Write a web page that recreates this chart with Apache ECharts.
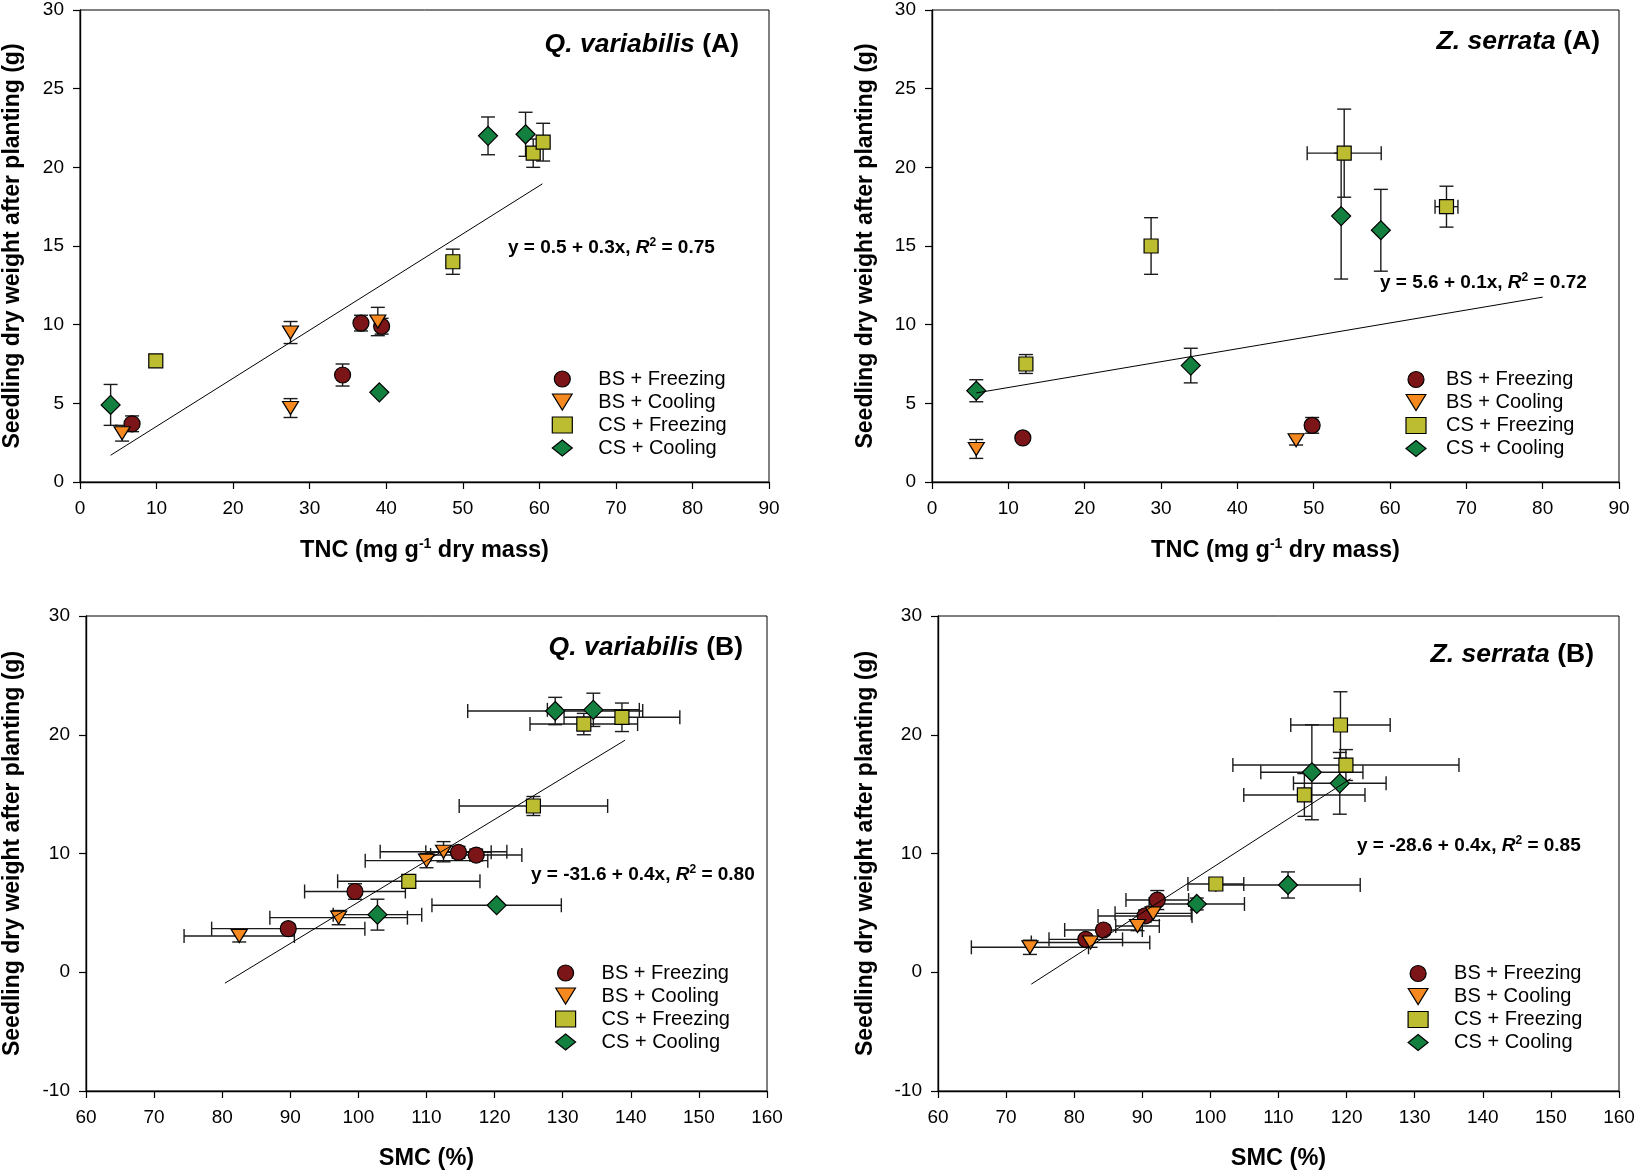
<!DOCTYPE html>
<html>
<head>
<meta charset="utf-8">
<script src="https://cdn.jsdelivr.net/npm/echarts@6/dist/echarts.min.js"></script>
<style>
html,body{margin:0;padding:0;background:#fff;}
#chart{width:1638px;height:1174px;}
</style>
</head>
<body>
<div id="chart"></div>
<script>
// ---------- DATA ----------
const groupNames = ['BS + Freezing', 'BS + Cooling', 'CS + Freezing', 'CS + Cooling'];

// axis ranges [min, max, interval]
const tncXRange = [0, 90, 10];
const tncYRange = [0, 30, 5];
const smcXRange = [60, 160, 10];
const smcYRange = [-10, 30, 10];

// each point: [x, y, xError, yError]
// Q. variabilis, TNC (A)
const qvTncBSF = [[6.8, 3.7, 0, 0.5], [34.3, 6.8, 0, 0.7], [36.7, 10.1, 0, 0.5], [39.4, 9.9, 0, 0.5]];
const qvTncBSC = [[5.5, 3.1, 0, 0.5], [27.5, 9.5, 0, 0.7], [27.5, 4.7, 0, 0.6], [38.9, 10.2, 0, 0.9]];
const qvTncCSF = [[9.9, 7.7, 0, 0.3], [48.7, 14.0, 0, 0.8], [59.2, 20.9, 0, 0.9], [60.5, 21.6, 0, 1.2]];
const qvTncCSC = [[4.0, 4.9, 0, 1.3], [39.1, 5.7, 0, 0], [53.3, 22.0, 0, 1.2], [58.2, 22.1, 0, 1.4]];
const qvTncFit = [[4.0, 1.7], [60.4, 18.95]];

// Z. serrata, TNC (A)
const zsTncBSF = [[11.9, 2.8, 0, 0.2], [49.8, 3.6, 0, 0.5]];
const zsTncBSC = [[5.8, 2.1, 0, 0.6], [47.7, 2.65, 0, 0.3]];
const zsTncCSF = [[12.3, 7.5, 0, 0.6], [28.7, 15.0, 0, 1.8], [54.0, 20.9, 4.85, 2.8], [67.4, 17.5, 1.5, 1.3]];
const zsTncCSC = [[5.8, 5.8, 0, 0.7], [33.9, 7.4, 0, 1.1], [53.6, 16.9, 0, 4.0], [58.8, 16.0, 0, 2.6]];
const zsTncFit = [[5.8, 5.66], [80.0, 11.75]];

// Q. variabilis, SMC (B)
const qvSmcBSF = [[89.7, 3.67, 11.25, 0.4], [99.5, 6.8, 7.4, 0.65], [114.7, 10.1, 4.8, 0.5], [117.3, 9.87, 6.7, 0.5]];
const qvSmcBSC = [[82.5, 3.05, 8.1, 0.5], [97.1, 4.6, 10.1, 0.6], [110.0, 9.4, 9.0, 0.6], [112.5, 10.15, 9.3, 0.85]];
const qvSmcCSF = [[107.4, 7.66, 10.45, 0.3], [125.7, 14.0, 10.9, 0.8], [133.1, 20.9, 7.9, 0.9], [138.7, 21.47, 8.5, 1.2]];
const qvSmcCSC = [[102.8, 4.85, 6.5, 1.3], [120.3, 5.64, 9.5, 0], [128.9, 22.0, 12.85, 1.15], [134.5, 22.1, 6.75, 1.4]];
const qvSmcFit = [[80.4, -0.92], [139.15, 19.54]];

// Z. serrata, SMC (B)
const zsSmcBSF = [[81.7, 2.77, 5.4, 0.3], [84.3, 3.56, 5.7, 0.4], [90.4, 4.74, 6.9, 0.5], [92.2, 6.08, 4.6, 0.8]];
const zsSmcBSC = [[73.5, 2.1, 8.6, 0.6], [82.4, 2.5, 8.7, 0.4], [89.3, 3.9, 3.2, 0.4], [91.6, 4.96, 5.6, 0.6]];
const zsSmcCSF = [[100.8, 7.43, 4.1, 0.4], [113.8, 14.93, 8.9, 1.8], [119.1, 20.82, 7.3, 2.8], [119.9, 17.45, 16.6, 1.3]];
const zsSmcCSC = [[98.0, 5.75, 7.0, 0.5], [111.4, 7.35, 10.6, 1.1], [114.9, 16.84, 7.5, 4.0], [119.0, 15.91, 6.8, 2.6]];
const zsSmcFit = [[73.7, -1.0], [120.6, 16.3]];

// text
const titleSpecies = ['Q. variabilis', 'Z. serrata', 'Q. variabilis', 'Z. serrata'];
const titleTags = ['(A)', '(A)', '(B)', '(B)'];
const fitLeft = ['y = 0.5 + 0.3x, ', 'y = 5.6 + 0.1x, ', 'y = -31.6 + 0.4x, ', 'y = -28.6 + 0.4x, '];
const fitR2 = [' = 0.75', ' = 0.72', ' = 0.80', ' = 0.85'];
const yAxisTitle = 'Seedling dry weight after planting (g)';

// ---------- CHART ----------
const FONT = "'Liberation Sans', Arial, Helvetica, sans-serif";
const colors = ['#7B1518', '#F5891F', '#BDBD31', '#13803F'];
const symbols = ['circle', 'path://M0,0L16,0L8,13Z', 'rect', 'diamond'];
const symbolSizes = [16, [16, 13], 14, [19, 19]];

const panels = [
  {groups: [qvTncBSF, qvTncBSC, qvTncCSF, qvTncCSC], fit: qvTncFit, xr: tncXRange, yr: tncYRange,
   grid: {left: 80, top: 10, width: 689, height: 472}},
  {groups: [zsTncBSF, zsTncBSC, zsTncCSF, zsTncCSC], fit: zsTncFit, xr: tncXRange, yr: tncYRange,
   grid: {left: 932, top: 10, width: 687, height: 472}},
  {groups: [qvSmcBSF, qvSmcBSC, qvSmcCSF, qvSmcCSC], fit: qvSmcFit, xr: smcXRange, yr: smcYRange,
   grid: {left: 86, top: 616, width: 681, height: 475}},
  {groups: [zsSmcBSF, zsSmcBSC, zsSmcCSF, zsSmcCSC], fit: zsSmcFit, xr: smcXRange, yr: smcYRange,
   grid: {left: 938, top: 616, width: 681, height: 475}}
];

function errRender(params, api) {
  const x = api.value(0), y = api.value(1), xe = api.value(2), ye = api.value(3);
  const c = api.coord([x, y]);
  const st = {stroke: '#1b1b1b', lineWidth: 1.4, fill: null};
  const kids = [];
  const cap = 7;
  if (ye > 0) {
    const t = api.coord([x, y + ye])[1], b = api.coord([x, y - ye])[1];
    kids.push({type: 'line', shape: {x1: c[0], y1: t, x2: c[0], y2: b}, style: st});
    kids.push({type: 'line', shape: {x1: c[0] - cap, y1: t, x2: c[0] + cap, y2: t}, style: st});
    kids.push({type: 'line', shape: {x1: c[0] - cap, y1: b, x2: c[0] + cap, y2: b}, style: st});
  }
  if (xe > 0) {
    const l = api.coord([x - xe, y])[0], r = api.coord([x + xe, y])[0];
    kids.push({type: 'line', shape: {x1: l, y1: c[1], x2: r, y2: c[1]}, style: st});
    kids.push({type: 'line', shape: {x1: l, y1: c[1] - cap, x2: l, y2: c[1] + cap}, style: st});
    kids.push({type: 'line', shape: {x1: r, y1: c[1] - cap, x2: r, y2: c[1] + cap}, style: st});
  }
  return {type: 'group', children: kids};
}

const grids = [], xAxes = [], yAxes = [], series = [];
panels.forEach((p, i) => {
  grids.push(Object.assign({show: true, borderColor: '#000', borderWidth: 1, backgroundColor: 'transparent'}, p.grid));
  xAxes.push({
    type: 'value', gridIndex: i, min: p.xr[0], max: p.xr[1], interval: p.xr[2],
    axisLine: {show: true, onZero: false, lineStyle: {color: '#000', width: 1.4}},
    axisTick: {show: true, length: 7, lineStyle: {color: '#000', width: 1.2}},
    axisLabel: {color: '#000', fontSize: 19, margin: 17, fontFamily: FONT},
    splitLine: {show: false}
  });
  yAxes.push({
    type: 'value', gridIndex: i, min: p.yr[0], max: p.yr[1], interval: p.yr[2],
    axisLine: {show: true, onZero: false, lineStyle: {color: '#000', width: 1.4}},
    axisTick: {show: true, length: 7, lineStyle: {color: '#000', width: 1.2}},
    axisLabel: {color: '#000', fontSize: 19, margin: 16, fontFamily: FONT},
    splitLine: {show: false}
  });
  const all = [].concat(...p.groups);
  series.push({
    type: 'custom', xAxisIndex: i, yAxisIndex: i, renderItem: errRender,
    data: all, encode: {x: 0, y: 1}, z: 1, silent: true, clip: false
  });
  p.groups.forEach((g, k) => {
    series.push({
      type: 'scatter', name: groupNames[k], xAxisIndex: i, yAxisIndex: i,
      data: g.map(d => [d[0], d[1]]),
      symbol: symbols[k], symbolSize: symbolSizes[k],
      itemStyle: {color: colors[k], borderColor: '#000', borderWidth: 1.2, opacity: 1},
      z: 2, silent: true
    });
  });
  series.push({
    type: 'line', xAxisIndex: i, yAxisIndex: i, data: p.fit,
    symbol: 'none', lineStyle: {color: '#000', width: 1}, z: 3, silent: true
  });
});

const legendPos = [[546.7, 364], [1400.4, 364.5], [550, 958], [1402.5, 958.5]];
const legendPad = [21, 15, 21, 21];
const legends = legendPos.map((pos, i) => ({
  orient: 'vertical', left: pos[0], top: pos[1], itemWidth: 20, itemHeight: 16, itemGap: 3,
  selectedMode: false, data: groupNames,
  itemStyle: {borderColor: '#000', borderWidth: 1.2},
  textStyle: {fontSize: 20, color: '#000', fontFamily: FONT, lineHeight: 20, padding: [0, 0, 0, legendPad[i]]}
}));

const titlePos = [[739, 45], [1600, 42], [743, 648], [1594, 655]];
const fitPos = [[508, 248], [1380, 283], [531, 875], [1357, 846]];
const xNamePos = [[424.5, 551], [1275.5, 551], [426.5, 1159], [1278.5, 1159]];
const yNamePos = [[13, 246], [866, 246], [13, 853.5], [866, 853.5]];
const xNames = ['{b|TNC (mg g}{s|-1}{b| dry mass)}', '{b|TNC (mg g}{s|-1}{b| dry mass)}', '{b|SMC (%)}', '{b|SMC (%)}'];

const graphics = [];
for (let i = 0; i < 4; i++) {
  graphics.push({
    type: 'text', x: titlePos[i][0], y: titlePos[i][1], silent: true,
    style: {
      text: '{it|' + titleSpecies[i] + '}{n| ' + titleTags[i] + '}',
      align: 'right', verticalAlign: 'middle', fontFamily: FONT, fontSize: 26.5, fontWeight: 'bold',
      rich: {
        it: {fontFamily: FONT, fontSize: 26.5, fontWeight: 'bold', fontStyle: 'italic', fill: '#000'},
        n: {fontFamily: FONT, fontSize: 26.5, fontWeight: 'bold', fill: '#000'}
      }
    }
  });
  graphics.push({
    type: 'text', x: fitPos[i][0], y: fitPos[i][1], silent: true,
    style: {
      text: '{b|' + fitLeft[i] + '}{i|R}{s|2}{b|' + fitR2[i] + '}',
      align: 'left', verticalAlign: 'middle', fontFamily: FONT, fontSize: 19, fontWeight: 'bold',
      rich: {
        b: {fontFamily: FONT, fontSize: 19, fontWeight: 'bold', fill: '#000', lineHeight: 23},
        i: {fontFamily: FONT, fontSize: 19, fontWeight: 'bold', fontStyle: 'italic', fill: '#000', lineHeight: 23},
        s: {fontFamily: FONT, fontSize: 12, fontWeight: 'bold', fill: '#000', verticalAlign: 'top', lineHeight: 14}
      }
    }
  });
  graphics.push({
    type: 'text', x: xNamePos[i][0], y: xNamePos[i][1], silent: true,
    style: {
      text: xNames[i], align: 'center', verticalAlign: 'middle', fontFamily: FONT, fontSize: 23.5, fontWeight: 'bold',
      rich: {
        b: {fontFamily: FONT, fontSize: 23.5, fontWeight: 'bold', fill: '#000', lineHeight: 28},
        s: {fontFamily: FONT, fontSize: 14, fontWeight: 'bold', fill: '#000', verticalAlign: 'top', lineHeight: 17}
      }
    }
  });
  graphics.push({
    type: 'text', x: yNamePos[i][0], y: yNamePos[i][1], rotation: Math.PI / 2, silent: true,
    style: {
      text: yAxisTitle, align: 'center', verticalAlign: 'middle',
      fontFamily: FONT, fontSize: 23, fontWeight: 'bold', fill: '#000'
    }
  });
}

const chart = echarts.init(document.getElementById('chart'), null, {renderer: 'canvas'});
chart.setOption({
  animation: false,
  backgroundColor: '#fff',
  grid: grids, xAxis: xAxes, yAxis: yAxes,
  legend: legends,
  graphic: graphics,
  series: series
});
</script>
</body>
</html>
